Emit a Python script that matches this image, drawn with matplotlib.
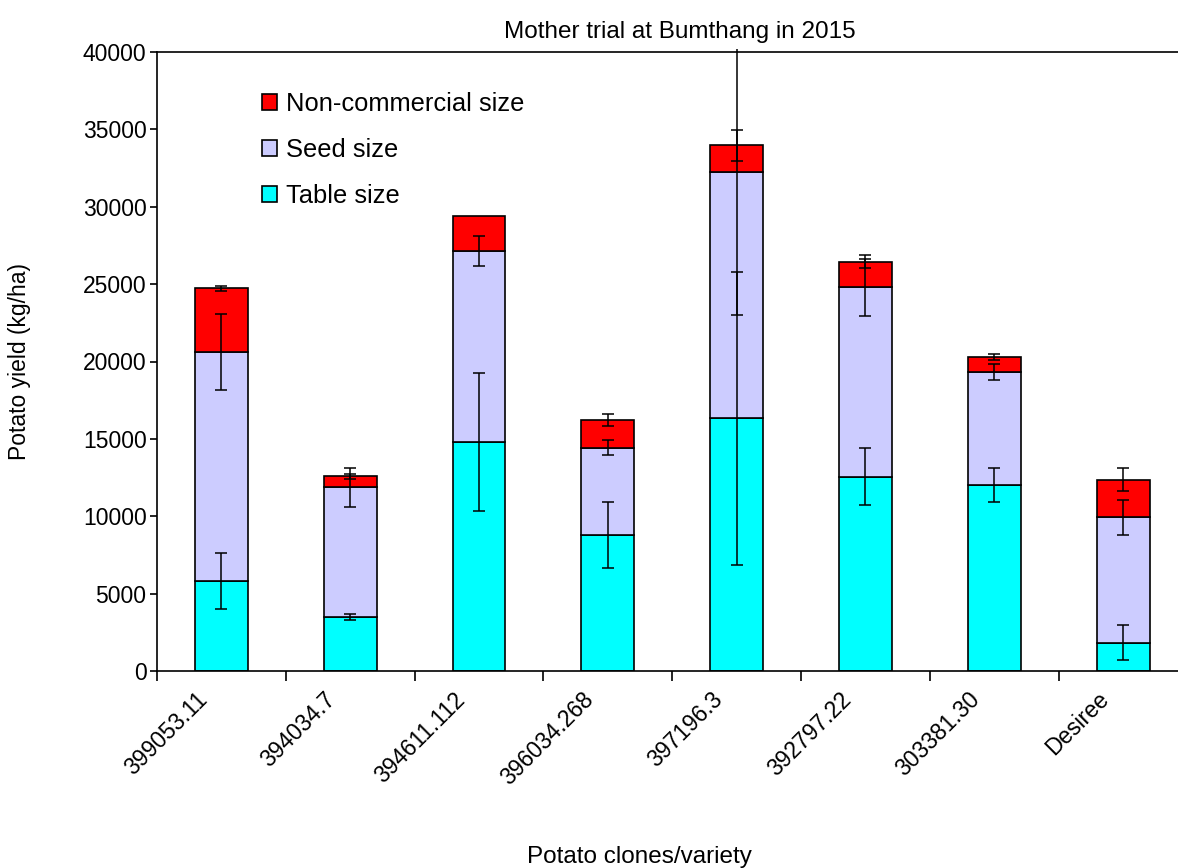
import matplotlib
matplotlib.use("Agg")
import matplotlib.pyplot as plt
import matplotlib.transforms as mtransforms
from matplotlib.patches import Rectangle
import numpy as np

plt.rcParams['font.family'] = ['Liberation Sans', 'DejaVu Sans']

clones = ['399053.11', '394034.7', '394611.112', '396034.268',
          '397196.3', '392797.22', '303381.30', 'Desiree']

# Yield components (kg/ha) for each clone
table_size = [5820, 3490, 14780, 8800, 16330, 12560, 12000, 1830]
seed_size = [14800, 8390, 12360, 5640, 15890, 12230, 7330, 8100]
noncommercial_size = [4100, 690, 2260, 1760, 1760, 1670, 960, 2430]

# Error (kg/ha) shown at the top of each component
table_err = [1820, 200, 4450, 2150, 9450, 1840, 1100, 1150]
seed_err = [2480, 1270, 940, 480, 9200, 1860, 500, 1130]
noncommercial_err = [150, 175, 0, 400, 1000, 390, 215, 760]

yticks = [0, 5000, 10000, 15000, 20000, 25000, 30000, 35000, 40000]

W, H = 1178, 868
fig = plt.figure(figsize=(W / 100, H / 100), dpi=100)
ax_left, ax_right, ax_top, ax_bottom = 157, 1187.5, 52, 671
ax = fig.add_axes([ax_left / W, 1 - ax_bottom / H,
                   (ax_right - ax_left) / W, (ax_bottom - ax_top) / H])

x = np.arange(len(clones))
width = 0.41
edge = dict(edgecolor='black', linewidth=1.2)

t = np.array(table_size)
s = np.array(seed_size)
n = np.array(noncommercial_size)

b1 = ax.bar(x, t, width, color='#00FFFF', label='Table size', **edge, zorder=2)
b2 = ax.bar(x, s, width, bottom=t, color='#CCCCFF', label='Seed size', **edge, zorder=2)
b3 = ax.bar(x, n, width, bottom=t + s, color='#FF0000',
            label='Non-commercial size', **edge, zorder=2)

# error bars may run slightly past the top of the plot area
clip_rect = Rectangle((0, -0.01), 1, 1.015, transform=ax.transAxes)
for tops, errs in [(t, table_err), (t + s, seed_err), (t + s + n, noncommercial_err)]:
    errs = np.array(errs)
    mask = errs > 0
    eb = ax.errorbar(x[mask], tops[mask], yerr=errs[mask], fmt='none',
                     ecolor='black', elinewidth=1.1, capsize=4.3,
                     capthick=1.1, zorder=3)
    for art in eb.lines[1] + eb.lines[2]:
        art.set_clip_path(clip_rect)

ax.set_xlim(-0.5, len(clones) - 0.5)
ax.set_ylim(0, 40000)
ax.set_yticks(yticks)
ax.set_yticklabels([str(v) for v in yticks])

ax.set_xticks(np.arange(len(clones) + 1) - 0.5)
ax.set_xticklabels([])
ax.set_xticks(x, minor=True)
ax.set_xticklabels(clones, minor=True, rotation=45, ha='right', va='center',
                   rotation_mode='anchor')
ax.tick_params(axis='x', which='minor', length=0, pad=18, labelsize=16.5)
ax.tick_params(axis='x', which='major', length=7, width=1.2, direction='out')
ax.tick_params(axis='y', length=5, width=1.2, direction='out', labelsize=16.5, pad=2.5)
shift = mtransforms.ScaledTranslation(-18 / 100, 0, fig.dpi_scale_trans)
for lbl in ax.get_xticklabels(minor=True):
    lbl.set_transform(lbl.get_transform() + shift)

for side in ['left', 'bottom', 'top', 'right']:
    ax.spines[side].set_linewidth(1.2)

ax.set_title('Mother trial at Bumthang in 2015', fontsize=17.5, x=0.507, pad=10)
ax.set_xlabel('Potato clones/variety', fontsize=17.5)
ax.xaxis.set_label_coords(0.468, -0.282)
ax.set_ylabel('Potato yield (kg/ha)', fontsize=16.5)
ax.yaxis.set_label_coords(-0.122, 0.5)

handles = [b3, b2, b1]
ax.legend(handles, [h.get_label() for h in handles], loc='upper left',
          bbox_to_anchor=(0.102, (ax_bottom - 92) / (ax_bottom - ax_top)),
          frameon=False, fontsize=18.4, handlelength=0.59, handleheight=0.59,
          handletextpad=0.35, labelspacing=0.86, borderpad=0, borderaxespad=0)

fig.savefig('out.png', dpi=100)
